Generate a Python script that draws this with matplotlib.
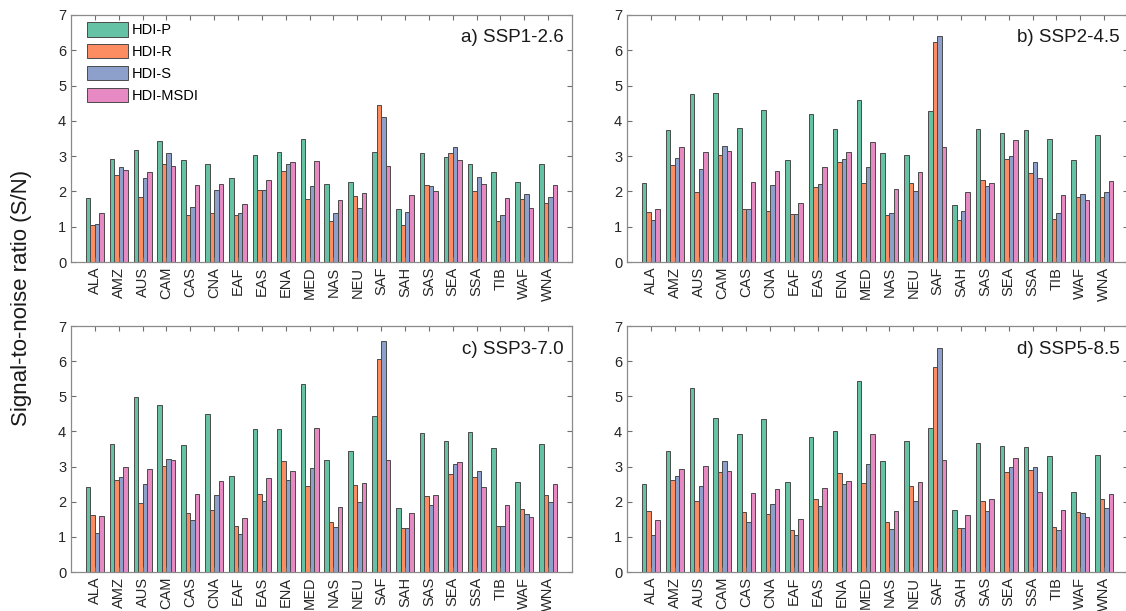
import numpy as np
import matplotlib.pyplot as plt

plt.rcParams['font.family'] = ['Liberation Sans', 'DejaVu Sans']

# Régions
regions = ["ALA", "AMZ", "AUS", "CAM", "CAS", "CNA", "EAF", "EAS", "ENA", "MED",
           "NAS", "NEU", "SAF", "SAH", "SAS", "SEA", "SSA", "TIB", "WAF", "WNA"]

indices = ["HDI-P", "HDI-R", "HDI-S", "HDI-MSDI"]

# a) SSP1-2.6
ssp126_P = [1.80, 2.93, 3.17, 3.42, 2.88, 2.78, 2.39, 3.04, 3.12, 3.50,
            2.21, 2.27, 3.13, 1.49, 3.09, 2.97, 2.79, 2.56, 2.28, 2.79]
ssp126_R = [1.06, 2.46, 1.84, 2.79, 1.34, 1.40, 1.32, 2.05, 2.57, 1.79,
            1.15, 1.88, 4.44, 1.06, 2.19, 3.08, 2.01, 1.15, 1.78, 1.67]
ssp126_S = [1.09, 2.69, 2.37, 3.10, 1.57, 2.05, 1.39, 2.03, 2.79, 2.15,
            1.39, 1.54, 4.12, 1.43, 2.15, 3.27, 2.41, 1.33, 1.93, 1.83]
ssp126_M = [1.39, 2.62, 2.56, 2.73, 2.18, 2.22, 1.65, 2.32, 2.83, 2.86,
            1.77, 1.96, 2.71, 1.89, 2.00, 2.88, 2.22, 1.81, 1.54, 2.19]

# b) SSP2-4.5
ssp245_P = [2.25, 3.73, 4.75, 4.78, 3.81, 4.30, 2.88, 4.20, 3.77, 4.58,
            3.08, 3.02, 4.27, 1.62, 3.77, 3.67, 3.73, 3.50, 2.89, 3.59]
ssp245_R = [1.42, 2.76, 1.97, 3.02, 1.51, 1.45, 1.37, 2.12, 2.82, 2.25,
            1.32, 2.25, 6.23, 1.18, 2.31, 2.92, 2.53, 1.23, 1.85, 1.83]
ssp245_S = [1.19, 2.96, 2.63, 3.29, 1.49, 2.19, 1.37, 2.20, 2.93, 2.69,
            1.40, 2.00, 6.41, 1.45, 2.16, 3.01, 2.82, 1.40, 1.93, 1.97]
ssp245_M = [1.51, 3.25, 3.12, 3.15, 2.26, 2.59, 1.67, 2.68, 3.13, 3.41,
            2.08, 2.54, 3.25, 1.98, 2.24, 3.47, 2.39, 1.91, 1.77, 2.29]

# c) SSP3-7.0
ssp370_P = [2.41, 3.63, 4.97, 4.76, 3.60, 4.51, 2.73, 4.06, 4.08, 5.34,
            3.20, 3.44, 4.43, 1.82, 3.96, 3.72, 3.97, 3.52, 2.56, 3.63]
ssp370_R = [1.63, 2.61, 1.97, 3.01, 1.68, 1.76, 1.31, 2.23, 3.17, 2.46,
            1.43, 2.47, 6.05, 1.24, 2.15, 2.80, 2.70, 1.31, 1.79, 2.19]
ssp370_S = [1.12, 2.70, 2.51, 3.21, 1.49, 2.19, 1.08, 2.02, 2.61, 2.97,
            1.28, 2.00, 6.56, 1.26, 1.91, 3.07, 2.87, 1.30, 1.65, 2.00]
ssp370_M = [1.58, 2.98, 2.93, 3.19, 2.22, 2.59, 1.53, 2.67, 2.87, 4.09,
            1.85, 2.53, 3.18, 1.68, 2.19, 3.14, 2.43, 1.90, 1.57, 2.51]

# d) SSP5-8.5
ssp585_P = [2.51, 3.43, 5.24, 4.38, 3.94, 4.34, 2.57, 3.84, 4.02, 5.44,
            3.17, 3.72, 4.10, 1.76, 3.66, 3.58, 3.55, 3.30, 2.29, 3.33]
ssp585_R = [1.73, 2.61, 2.02, 2.85, 1.70, 1.65, 1.19, 2.08, 2.83, 2.53,
            1.42, 2.46, 5.84, 1.24, 2.01, 2.85, 2.89, 1.28, 1.70, 2.07]
ssp585_S = [1.06, 2.73, 2.46, 3.16, 1.42, 1.94, 1.05, 1.89, 2.49, 3.08,
            1.22, 2.02, 6.36, 1.24, 1.73, 2.99, 2.98, 1.19, 1.69, 1.81]
ssp585_M = [1.48, 2.94, 3.01, 2.88, 2.25, 2.36, 1.52, 2.39, 2.60, 3.92,
            1.73, 2.57, 3.18, 1.63, 2.07, 3.23, 2.27, 1.77, 1.56, 2.22]

panels = [
    ("a) SSP1-2.6", [ssp126_P, ssp126_R, ssp126_S, ssp126_M]),
    ("b) SSP2-4.5", [ssp245_P, ssp245_R, ssp245_S, ssp245_M]),
    ("c) SSP3-7.0", [ssp370_P, ssp370_R, ssp370_S, ssp370_M]),
    ("d) SSP5-8.5", [ssp585_P, ssp585_R, ssp585_S, ssp585_M]),
]

colors = ["#66c2a5", "#fc8d62", "#8da0cb", "#e78ac3"]

W, H = 1126, 611
fig = plt.figure(figsize=(W / 100, H / 100), dpi=100)

# positions des axes (en pixels : gauche, haut, largeur, hauteur)
boxes = [(71, 15, 501, 247), (627, 15, 501, 247),
         (71, 326, 501, 246), (627, 326, 501, 246)]

x = np.arange(1, len(regions) + 1)
bw = 0.188

for k, (title, series) in enumerate(panels):
    l, t, w, h = boxes[k]
    ax = fig.add_axes([l / W, 1 - (t + h) / H, w / W, h / H])
    for j, vals in enumerate(series):
        ax.bar(x + (j - 1.5) * bw, vals, width=bw, color=colors[j],
               edgecolor="#4a4a4a", linewidth=0.7, label=indices[j])
    ax.set_xlim(0, len(regions) + 1)
    ax.set_ylim(0, 7)
    ax.set_xticks(x)
    ax.set_xticklabels(regions, rotation=90, fontsize=10.5, color="#262626")
    ax.set_yticks(range(8))
    ax.tick_params(axis="y", labelsize=10.5, labelcolor="#262626")
    ax.tick_params(direction="in", top=True, right=True, length=3.5,
                   width=0.8, color="#6e6e6e")
    for s in ax.spines.values():
        s.set_color("#8a8a8a")
        s.set_linewidth(0.9)
    ax.text(1 - 8 / w, 1 - 23 / h, title, transform=ax.transAxes,
            ha="right", va="center", fontsize=13.5, color="#1a1a1a")
    if k == 0:
        ax.legend(loc="upper left", bbox_to_anchor=(16 / w, 1 - 7 / h),
                  frameon=False, fontsize=10.5, borderpad=0, borderaxespad=0,
                  handlelength=2.8, handleheight=1.16, labelspacing=0.46,
                  handletextpad=0.25)

fig.text(22 / W, 1 - 298 / H, "Signal-to-noise ratio (S/N)", rotation=90,
         ha="center", va="center", fontsize=16, color="#1a1a1a")

plt.savefig("out.png", dpi=100)
plt.close()
